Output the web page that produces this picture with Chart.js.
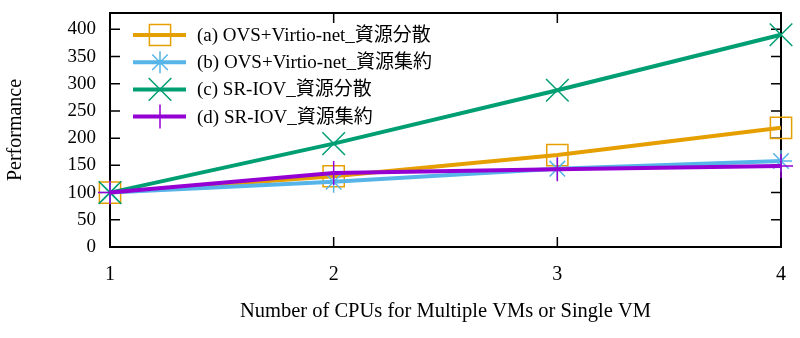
<!DOCTYPE html>
<html>
<head>
<meta charset="utf-8">
<script src="https://cdn.jsdelivr.net/npm/chart.js@4/dist/chart.umd.min.js"></script>
<style>
  body { margin: 0; background: #fff; }
</style>
</head>
<body>
<canvas id="perfChart" width="800" height="338"></canvas>
<script>
// values
const cpuCounts = [1, 2, 3, 4];
const ovsSpread = [100, 130, 169, 219];
const ovsPacked = [100, 120, 144, 158];
const sriovSpread = [100, 190, 288, 390];
const sriovPacked = [100, 136, 143, 149];
const seriesNames = [
  '(a) OVS+Virtio-net_資源分散',
  '(b) OVS+Virtio-net_資源集約',
  '(c) SR-IOV_資源分散',
  '(d) SR-IOV_資源集約'
];
const yTicks = [0, 50, 100, 150, 200, 250, 300, 350, 400];

const serif = "'Liberation Serif', 'Noto Sans CJK JP', serif";
Chart.defaults.font.family = serif;
Chart.defaults.color = '#000';

function toPoints(vals) {
  return vals.map((v, i) => ({ x: cpuCounts[i], y: v }));
}

function makeSet(label, vals, color, style, radius, order) {
  return {
    label: label,
    data: toPoints(vals),
    borderColor: color,
    backgroundColor: 'transparent',
    borderWidth: 4,
    pointStyle: style,
    pointRadius: radius,
    pointHoverRadius: radius,
    pointBorderColor: color,
    pointBorderWidth: 1.5,
    pointBackgroundColor: 'transparent',
    tension: 0,
    clip: false,
    order: order
  };
}

const datasets = [
  makeSet(seriesNames[0], ovsSpread, '#E69F00', 'rect', 15, 3),
  makeSet(seriesNames[1], ovsPacked, '#56B4E9', 'star', 11, 2),
  makeSet(seriesNames[2], sriovSpread, '#009E73', 'crossRot', 16, 1),
  makeSet(seriesNames[3], sriovPacked, '#9400D3', 'cross', 12, 0)
];

//Box round the plot with gnuplot style inward ticks
const framePlugin = {
  id: 'frame',
  beforeDatasetsDraw(chart) {
    const {ctx, chartArea: a, scales} = chart;
    ctx.save();
    ctx.strokeStyle = '#000';
    ctx.lineWidth = 1.5;
    yTicks.forEach(t => {
      const y = scales.y.getPixelForValue(t);
      ctx.beginPath();
      ctx.moveTo(a.left, y); ctx.lineTo(a.left + 10, y);
      ctx.moveTo(a.right, y); ctx.lineTo(a.right - 10, y);
      ctx.stroke();
    });
    cpuCounts.forEach(t => {
      const x = scales.x.getPixelForValue(t);
      ctx.beginPath();
      ctx.moveTo(x, a.bottom); ctx.lineTo(x, a.bottom - 10);
      ctx.moveTo(x, a.top); ctx.lineTo(x, a.top + 10);
      ctx.stroke();
    });
    ctx.lineWidth = 2;
    ctx.strokeRect(a.left, a.top, a.right - a.left, a.bottom - a.top);
    ctx.restore();
  }
};

//Legend inside the plot: line sample with marker, then text
const keyPlugin = {
  id: 'key',
  afterDatasetsDraw(chart) {
    const ctx = chart.ctx;
    ctx.save();
    chart.data.datasets.forEach((ds, i) => {
      const y = 35 + i * 27.2;
      ctx.strokeStyle = ds.borderColor;
      ctx.lineWidth = 4;
      ctx.beginPath();
      ctx.moveTo(133, y); ctx.lineTo(186, y);
      ctx.stroke();
      ctx.lineWidth = ds.pointBorderWidth;
      Chart.helpers.drawPoint(ctx, {
        pointStyle: ds.pointStyle,
        radius: ds.pointRadius,
        rotation: 0,
        borderWidth: ds.pointBorderWidth
      }, 160, y);
      ctx.fillStyle = '#000';
      ctx.font = '19px ' + serif;
      ctx.textAlign = 'left';
      ctx.textBaseline = 'middle';
      ctx.fillText(ds.label, 197, y + 1);
    });
    ctx.restore();
  }
};

const perfChart = new Chart(document.getElementById('perfChart'), {
  type: 'line',
  data: { datasets: datasets },
  options: {
    responsive: false,
    animation: false,
    layout: { autoPadding: false, padding: { top: 13, right: 19, left: 0, bottom: 0 } },
    plugins: { legend: { display: false }, tooltip: { enabled: false } },
    scales: {
      x: {
        type: 'linear',
        min: 1,
        max: 4,
        afterFit: s => { s.height = 91; s.paddingLeft = 0; s.paddingRight = 0; },
        grid: { display: false, drawTicks: false },
        border: { display: false },
        ticks: { stepSize: 1, padding: 16, font: { size: 20 } },
        title: {
          display: true,
          text: 'Number of CPUs for Multiple VMs or Single VM',
          font: { size: 20.5 },
          padding: { top: 0, bottom: 14 }
        }
      },
      y: {
        type: 'linear',
        min: 0,
        max: 430,
        afterFit: s => { s.width = 110; s.paddingTop = 0; s.paddingBottom = 0; },
        afterBuildTicks: s => { s.ticks = yTicks.map(v => ({ value: v })); },
        grid: { display: false, drawTicks: false },
        border: { display: false },
        ticks: { padding: 14, font: { size: 19 } },
        title: {
          display: true,
          text: 'Performance',
          font: { size: 20 },
          padding: { top: 4, bottom: 0 }
        }
      }
    }
  },
  plugins: [framePlugin, keyPlugin]
});
</script>
</body>
</html>
